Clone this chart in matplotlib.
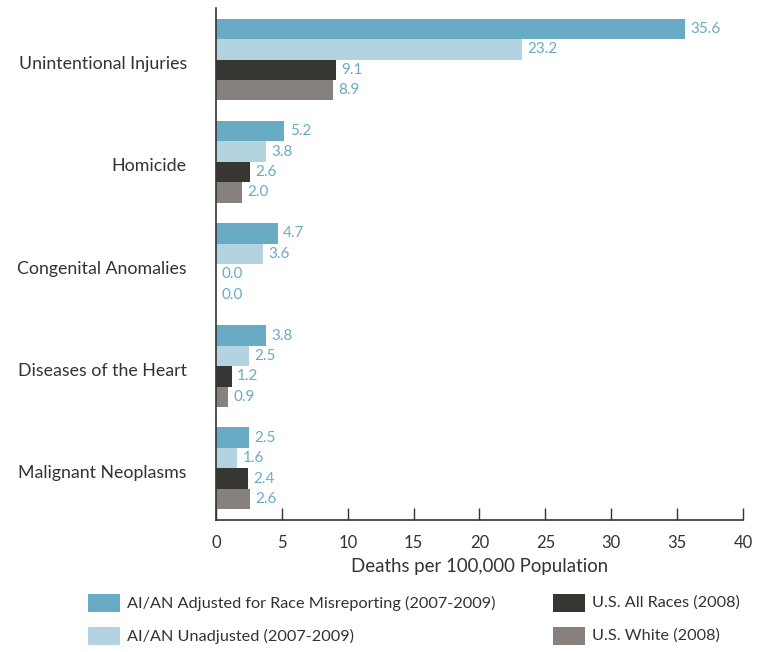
import numpy as np
import matplotlib.pyplot as plt
from matplotlib.patches import Rectangle

plt.rcParams['font.family'] = ['Lato', 'DejaVu Sans']

causes = ["Unintentional Injuries", "Homicide", "Congenital Anomalies",
          "Diseases of the Heart", "Malignant Neoplasms"]
series_names = ["AI/AN Adjusted for Race Misreporting (2007-2009)",
                "AI/AN Unadjusted (2007-2009)",
                "U.S. All Races (2008)",
                "U.S. White (2008)"]
adjusted = [35.6, 5.2, 4.7, 3.8, 2.5]
unadjusted = [23.2, 3.8, 3.6, 2.5, 1.6]
all_races = [9.1, 2.6, 0.0, 1.2, 2.4]
white = [8.9, 2.0, 0.0, 0.9, 2.6]
xticks = [0, 5, 10, 15, 20, 25, 30, 35, 40]

colors = ["#69abc4", "#b3d3e0", "#363733", "#86817d"]
label_color = "#6aaac4"

fig = plt.figure(figsize=(7.57, 6.52), dpi=100)
ax = fig.add_axes([0.2853, 0.2025, 0.6962, 0.7852])

y = np.arange(len(causes))
h = 0.2
all_series = [adjusted, unadjusted, all_races, white]
for k, vals in enumerate(all_series):
    pos = y - 0.3 + k * h
    ax.barh(pos, vals, height=h, color=colors[k], linewidth=0)
    for p, v in zip(pos, vals):
        ax.text(v + 0.4, p, f"{v:.1f}", va="center", ha="left",
                color=label_color, fontsize=11)

ax.set_xlim(0, 40)
ax.set_ylim(4.505, -0.505)
ax.set_xticks(xticks)
ax.set_xticklabels([str(t) for t in xticks], fontsize=12, color="#333333")
ax.set_yticks(y + 0.03)
ax.set_yticklabels(causes, fontsize=12.8, color="#333333")
ax.tick_params(axis="y", length=0, pad=21)
ax.tick_params(axis="x", direction="in", length=9, width=1, color="#333333", pad=11)
ax.set_xlabel("Deaths per 100,000 Population", fontsize=13.4, color="#333333", labelpad=5)
for s in ["top", "right"]:
    ax.spines[s].set_visible(False)
for s in ["left", "bottom"]:
    ax.spines[s].set_color("#333333")
    ax.spines[s].set_linewidth(1.2)

# legend
W, H = 757, 652
legend_pos = [(88, 603), (88, 636), (553, 603), (553, 636)]
for k, (lx, ly) in enumerate(legend_pos):
    fig.patches.append(Rectangle((lx / W, 1 - (ly + 9) / H), 32 / W, 18 / H,
                                 transform=fig.transFigure, color=colors[k], linewidth=0))
    fig.text((lx + 39) / W, 1 - ly / H, series_names[k], va="center", ha="left",
             fontsize=11.7, color="#333333")

fig.savefig("out.png", dpi=100)
